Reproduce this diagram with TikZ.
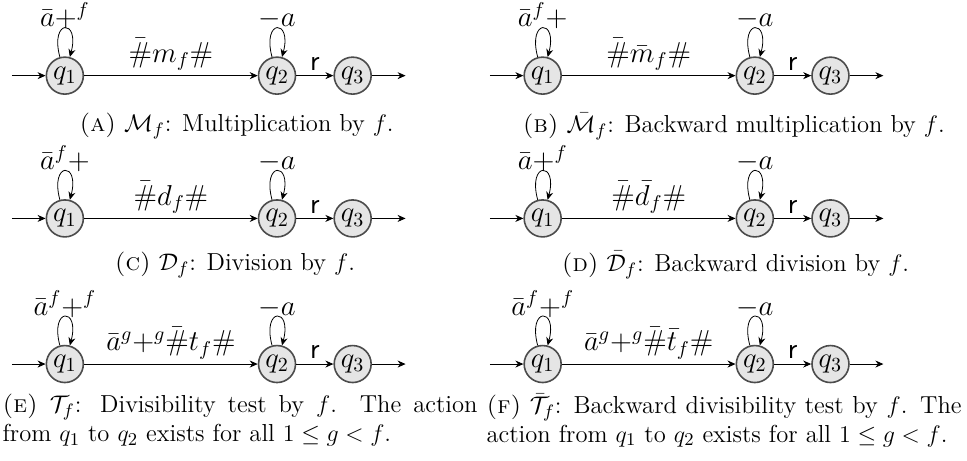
\documentclass[tikz,border=0pt]{standalone}
\usepackage{amsmath,amssymb}
\usetikzlibrary{arrows.meta,positioning}

\begin{document}
\begin{tikzpicture}[
    >={Stealth[length=4pt,width=3.5pt]},
    state/.style={circle, minimum size=18.5pt, inner sep=0pt, draw=black!70, thick, fill=black!10, font=\Large},
    lbl/.style={font=\Large},
    selfloop/.style={loop above, min distance=7mm},
    captxt/.style={font=\fontsize{12.3pt}{14.5pt}\selectfont}
]
    \useasboundingbox (0,0) rectangle (17.0,8.09);

    % the six automata: id / x / y / loop label / edge label
    \foreach \n/\x/\y/\lp/\lb in {
        a/1.14/6.76/{$\bar{a}{+}^{f}$}/{$\bar{\#}m_f\#$},
        b/9.54/6.76/{$\bar{a}^{f}{+}$}/{$\bar{\#}\bar{m}_f\#$},
        c/1.14/4.25/{$\bar{a}^{f}{+}$}/{$\bar{\#}d_f\#$},
        d/9.54/4.25/{$\bar{a}{+}^{f}$}/{$\bar{\#}\bar{d}_f\#$},
        e/1.14/1.69/{$\bar{a}^{f}{+}^{f}$}/{$\bar{a}^{g}{+}^{g}\bar{\#}t_f\#$},
        f/9.54/1.69/{$\bar{a}^{f}{+}^{f}$}/{$\bar{a}^{g}{+}^{g}\bar{\#}\bar{t}_f\#$}}
    {
        \node[state] (q1\n) at (\x,\y) {$q_1$};
        \node[state] (q2\n) at (\x+3.73,\y) {$q_2$};
        \node[state] (q3\n) at (\x+5.06,\y) {$q_3$};
        \coordinate (in\n) at (\x-0.93,\y);
        \coordinate (out\n) at (\x+5.99,\y);

        \draw[->] (in\n) -- (q1\n);
        \draw[->] (q1\n) edge[selfloop] node[lbl, above=-4pt] {\lp} (q1\n);
        \draw[->] (q1\n) -- (q2\n) node[lbl, midway, above=-1pt] {\lb};
        \draw[->] (q2\n) edge[selfloop] node[lbl, above=-4pt] {$-a$} (q2\n);
        \draw[->] (q2\n) -- (q3\n) node[lbl, midway, above=-1pt] {\textsf{r}};
        \draw[->] (q3\n) -- (out\n);
    }

    \node[captxt] (capa) at (4.16,5.87) {\textsc{(a)} $\mathcal{M}_f$: Multiplication by $f$.};
    \node[captxt] (capb) at (12.90,5.87) {\textsc{(b)} $\bar{\mathcal{M}}_f$: Backward multiplication by $f$.};
    \node[captxt] (capc) at (4.13,3.43) {\textsc{(c)} $\mathcal{D}_f$: Division by $f$.};
    \node[captxt] (capd) at (12.93,3.43) {\textsc{(d)} $\bar{\mathcal{D}}_f$: Backward division by $f$.};
    \node[captxt, text width=8.35cm, align=justify, inner sep=0pt] (cape) at (4.22,0.70)
        {\textsc{(e)} $\mathcal{T}_f$: Divisibility test by $f$. The action\linebreak from $q_1$ to $q_2$ exists for all $1 \leq g < f$.};
    \node[captxt, text width=8.35cm, align=justify, inner sep=0pt] (capf) at (12.73,0.70)
        {\textsc{(f)} $\bar{\mathcal{T}}_f$: Backward divisibility test by $f$. The action from $q_1$ to $q_2$ exists for all $1 \leq g < f$.};
\end{tikzpicture}
\end{document}
